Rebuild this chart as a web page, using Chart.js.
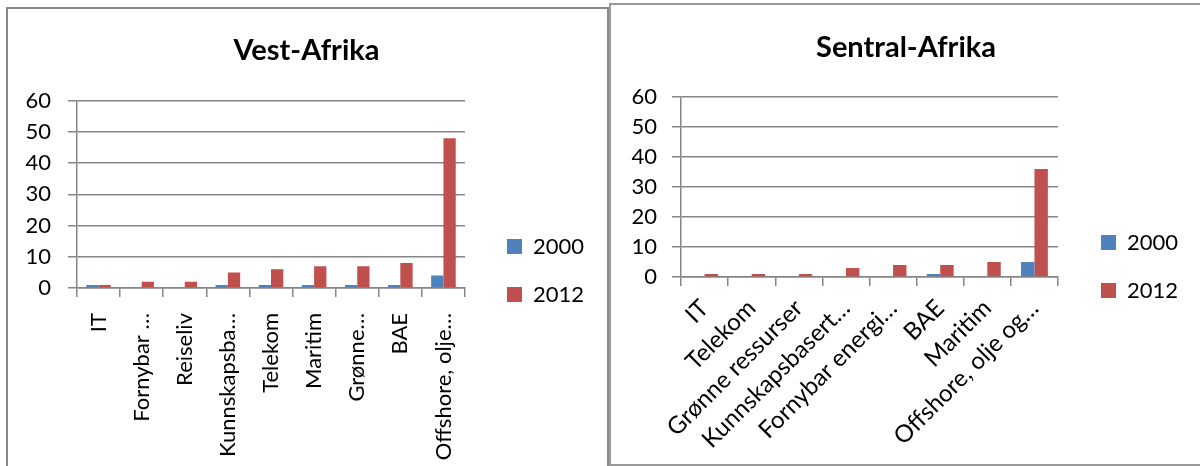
<!DOCTYPE html>
<html>
<head>
<meta charset="utf-8">
<script src="https://cdn.jsdelivr.net/npm/chart.js@4/dist/chart.umd.min.js"></script>
<style>
  html, body { margin: 0; padding: 0; background: #fff; }
  body { position: relative; width: 1200px; height: 466px; overflow: hidden; }
  .frame { position: absolute; box-sizing: border-box; }
  #frameWest { left: 6px; top: 7px; width: 603px; height: 480px; border: 2px solid #8a8a8a; }
  #frameCentral { left: 609px; top: 3px; width: 600px; height: 463px; border: 2px solid #9a9a9a; }
  .holder { position: absolute; top: 0; }
</style>
</head>
<body>
<div class="frame" id="frameWest"></div>
<div class="frame" id="frameCentral"></div>
<div class="holder" style="left:0"><canvas id="west" width="608" height="466"></canvas></div>
<div class="holder" style="left:612px"><canvas id="central" width="588" height="466"></canvas></div>

<script>
// values
const seriesLabels = ['2000', '2012'];
const yTicks = [0, 10, 20, 30, 40, 50, 60];

const westCategories = ['IT', 'Fornybar …', 'Reiseliv', 'Kunnskapsba…', 'Telekom', 'Maritim', 'Grønne…', 'BAE', 'Offshore, olje…'];
const west2000 = [1, 0, 0, 1, 1, 1, 1, 1, 4];
const west2012 = [1, 2, 2, 5, 6, 7, 7, 8, 48];

const centralCategories = ['IT', 'Telekom', 'Grønne ressurser', 'Kunnskapsbasert…', 'Fornybar energi…', 'BAE', 'Maritim', 'Offshore, olje og…'];
const central2000 = [0, 0, 0, 0, 0, 1, 0, 5];
const central2012 = [1, 1, 1, 3, 4, 4, 5, 36];

const BLUE = '#4F81BD';
const RED = '#C0504D';
const GRID = '#868686';

Chart.defaults.font.family = 'Lato, "Open Sans", sans-serif';
Chart.defaults.color = '#000';

// put the legend (and title) where Excel had it
const placeBoxes = {
  id: 'placeBoxes',
  afterLayout(chart, args, opts) {
    const lg = chart.legend;
    const pad = lg.options.labels.padding;
    lg.left = opts.legendX - pad;
    lg.top = opts.legendY - pad;
    lg.width = 160; lg.height = 160;
    lg.right = lg.left + 160;
    lg.bottom = lg.top + 160;
    const t = chart.titleBlock;
    if (t) { t.left += opts.titleDx; t.right += opts.titleDx; }
  }
};

function makeChart(id, cfg) {
  return new Chart(document.getElementById(id), {
    type: 'bar',
    data: {
      labels: cfg.categories,
      datasets: [
        { label: seriesLabels[0], data: cfg.s2000, backgroundColor: BLUE, borderWidth: 0 },
        { label: seriesLabels[1], data: cfg.s2012, backgroundColor: RED, borderWidth: 0 }
      ]
    },
    options: {
      responsive: false,
      animation: false,
      layout: { padding: { left: 0, top: 0, right: cfg.padRight, bottom: 0 } },
      datasets: { bar: { categoryPercentage: 0.57, barPercentage: 1 } },
      plugins: {
        title: {
          display: true, text: cfg.title, color: '#000',
          font: { size: 29, weight: 'bold' },
          padding: { top: cfg.titleTop, bottom: cfg.titleBottom }
        },
        legend: {
          position: 'chartArea', align: 'start',
          labels: { boxWidth: 15, boxHeight: 15, padding: 26, font: { size: 22 }, color: '#000' }
        },
        tooltip: { enabled: false },
        placeBoxes: { legendX: cfg.legendX, legendY: cfg.legendY, titleDx: cfg.titleDx }
      },
      scales: {
        x: {
          grid: { display: true, drawOnChartArea: false, tickLength: 9, color: GRID, lineWidth: 1.5 },
          border: { color: GRID, width: 1.5 },
          ticks: { autoSkip: false, minRotation: cfg.rot, maxRotation: cfg.rot, padding: cfg.xPad, font: { size: cfg.xFont }, color: '#000' },
          afterFit: s => { s.height = cfg.xHeight; }
        },
        y: {
          min: yTicks[0], max: yTicks[yTicks.length - 1],
          afterBuildTicks: s => { s.ticks = yTicks.map(v => ({ value: v })); },
          ticks: { padding: cfg.yPad, font: { size: 22 }, color: '#000' },
          grid: { color: GRID, lineWidth: 1.5, tickLength: 9 },
          border: { color: GRID, width: 1.5 },
          afterFit: s => { s.width = cfg.yWidth; }
        }
      }
    },
    plugins: [placeBoxes]
  });
}

makeChart('west', {
  title: 'Vest-Afrika', categories: westCategories, s2000: west2000, s2012: west2012,
  padRight: 143, yWidth: 77, xHeight: 178, titleTop: 33, titleBottom: 33, titleDx: 74,
  rot: 90, xFont: 22, xPad: 16, yPad: 17, legendX: 507, legendY: 235.5
});

makeChart('central', {
  title: 'Sentral-Afrika', categories: centralCategories, s2000: central2000, s2012: central2012,
  padRight: 142, yWidth: 69, xHeight: 189, titleTop: 30, titleBottom: 32, titleDx: 71,
  rot: 45, xFont: 24, xPad: 8, yPad: 15, legendX: 489, legendY: 231.5
});
</script>
</body>
</html>
